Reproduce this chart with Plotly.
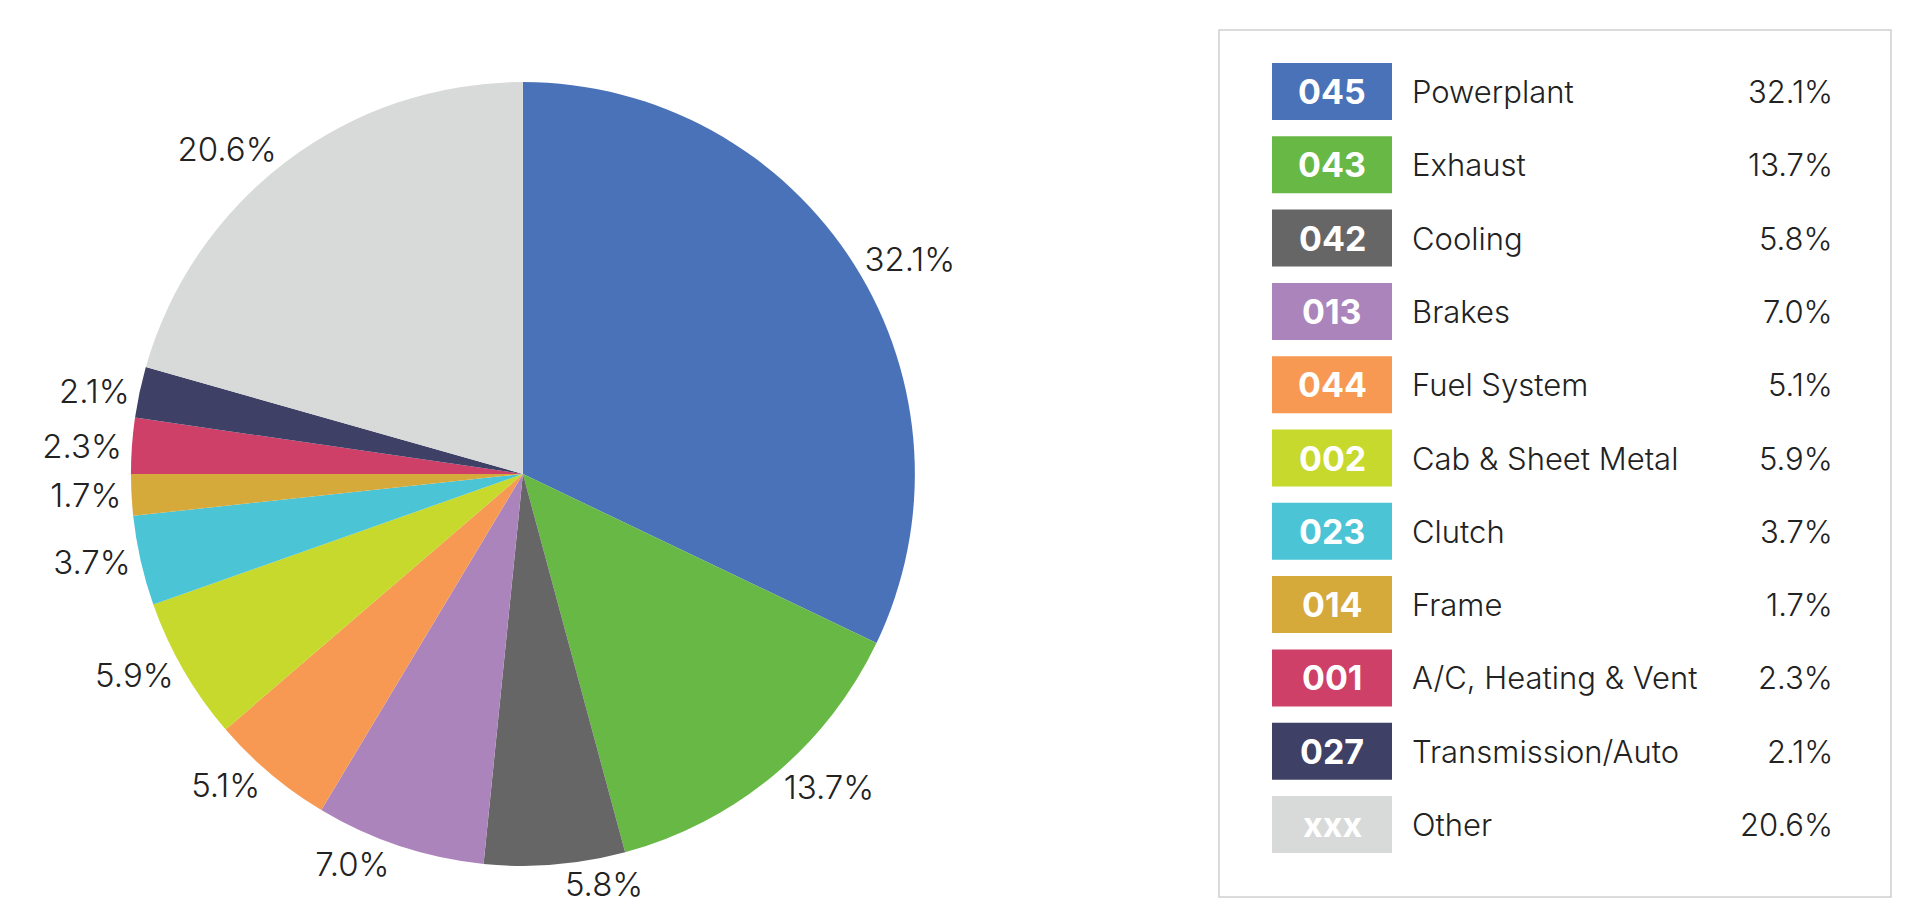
import plotly.graph_objects as go

W, H = 1912, 918

codes = ['045', '043', '042', '013', '044', '002', '023', '014', '001', '027', 'xxx']
systems = ['Powerplant', 'Exhaust', 'Cooling', 'Brakes', 'Fuel System', 'Cab & Sheet Metal',
           'Clutch', 'Frame', 'A/C, Heating & Vent', 'Transmission/Auto', 'Other']
shares = [32.1, 13.7, 5.8, 7.0, 5.1, 5.9, 3.7, 1.7, 2.3, 2.1, 20.6]
colors = ['#4A72B8', '#68B846', '#666666', '#AC84BC', '#F79952', '#C6D92C',
          '#4BC4D6', '#D6A93B', '#CE4068', '#3F4066', '#D8DADA']

FONT = 'Inter'

fig = go.Figure()
fig.add_trace(go.Pie(
    labels=systems,
    values=shares,
    text=[f'{v:.1f}%' for v in shares],
    textinfo='text',
    textposition='outside',
    textfont=dict(family=FONT, size=33, color='#222222', weight=300),
    marker=dict(colors=colors, line=dict(width=0)),
    sort=False,
    direction='clockwise',
    rotation=0,
    hole=0,
    domain=dict(x=[0.0643, 0.4743], y=[0.0654, 0.9194]),
    showlegend=False,
))


def px(x):
    return x / W


def py(y):
    return 1 - y / H


shapes = []
annotations = []

# legend box
shapes.append(dict(type='rect', xref='paper', yref='paper',
                   x0=px(1211), x1=px(1883), y0=py(889), y1=py(22),
                   line=dict(color='#D0D0D0', width=1.5), fillcolor='rgba(0,0,0,0)'))

row_top, row_h, pitch = 55, 57, 73.3
for i, (c, s, v, col) in enumerate(zip(codes, systems, shares, colors)):
    y0 = row_top + i * pitch
    yc = y0 + row_h / 2
    shapes.append(dict(type='rect', xref='paper', yref='paper',
                       x0=px(1264), x1=px(1384), y0=py(y0 + row_h), y1=py(y0),
                       line=dict(width=0), fillcolor=col))
    annotations.append(dict(x=px(1324), y=py(yc), xref='paper', yref='paper',
                            text=f'<b>{c}</b>', showarrow=False,
                            font=dict(family=FONT, size=34, color='white'),
                            xanchor='center', yanchor='middle'))
    annotations.append(dict(x=px(1402), y=py(yc), xref='paper', yref='paper',
                            text=s, showarrow=False,
                            font=dict(family=FONT, size=31, color='#222222', weight=300),
                            xanchor='left', yanchor='middle'))
    annotations.append(dict(x=px(1827), y=py(yc), xref='paper', yref='paper',
                            text=f'{v:.1f}%', showarrow=False,
                            font=dict(family=FONT, size=31, color='#222222', weight=300),
                            xanchor='right', yanchor='middle'))

fig.update_layout(
    width=W, height=H,
    margin=dict(l=0, r=0, t=0, b=0),
    paper_bgcolor='white',
    plot_bgcolor='white',
    shapes=shapes,
    annotations=annotations,
)

fig.write_html('out.html')
